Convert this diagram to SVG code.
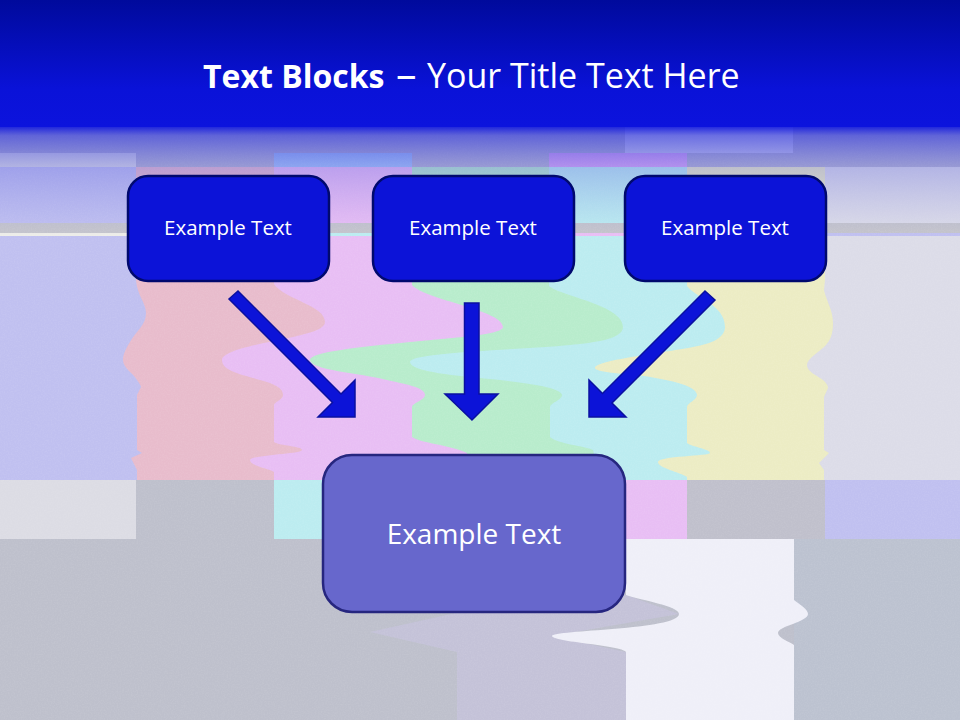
<svg xmlns="http://www.w3.org/2000/svg" width="960" height="720" viewBox="0 0 960 720">
<style>
.ui{font-family:"Open Sans","Noto Sans","Liberation Sans",sans-serif;fill:#fff;text-anchor:middle}
.small{font-size:20.500px}
.top{fill:#0c13d8;stroke:#00096e;stroke-width:2.5}
.arrow{fill:#0c13d8;stroke:#0a10a0;stroke-width:1.5;stroke-linejoin:miter}
</style>
<defs>
<linearGradient id="title" x1="0" y1="0" x2="0" y2="1">
<stop offset="0" stop-color="#000a9c"/><stop offset="0.7" stop-color="#0a12d8"/><stop offset="1" stop-color="#0c13dd"/>
</linearGradient>
<linearGradient id="fade" x1="0" y1="0" x2="0" y2="1">
<stop offset="0" stop-color="#0c13dd" stop-opacity="0.88"/>
<stop offset="0.08" stop-color="#2a30dc" stop-opacity="0.62"/>
<stop offset="0.38" stop-color="#4a50dc" stop-opacity="0.28"/>
<stop offset="1" stop-color="#6a70e0" stop-opacity="0"/>
</linearGradient>
<filter id="grain" x="0" y="0" width="100%" height="100%">
<feTurbulence type="fractalNoise" baseFrequency="0.7" numOctaves="2" seed="4"/>
<feColorMatrix type="matrix" values="0 0 0 0 1  0 0 0 0 1  0 0 0 0 1  1.2 0 0 0 -0.45"/>
</filter>
</defs>
<g id="background">
<rect width="960" height="720" fill="#bec0cc"/>
<rect y="127" width="960" height="40" fill="#b8b8d0"/>
<rect x="625" y="127" width="168" height="26" fill="#d4d4ec"/>
<rect y="153" width="136" height="14" fill="#dcdce4"/>
<rect x="274" y="153" width="138" height="14" fill="#a8c8f8"/>
<rect x="549" y="153" width="138" height="14" fill="#dcaaf4"/>
<rect y="167" width="960" height="313" fill="#c0c0f0"/>
<rect x="136" y="167" width="138" height="113" fill="#e8bccc"/>
<rect x="274" y="167" width="138" height="113" fill="#e8bef4"/>
<rect x="412" y="167" width="137" height="113" fill="#b8eccc"/>
<rect x="549" y="167" width="138" height="113" fill="#bcecf0"/>
<rect x="687" y="167" width="138" height="113" fill="#ececc4"/>
<rect x="825" y="167" width="135" height="113" fill="#dcdce8"/>
<path fill="#e8bccc" d="M136 280C137 295 146 303 146 313C146 325 137 330 130 342C125 350 123 355 123 360C123 368 133 373 137 380C140 384 141 386 141 387L137 395L137 450L142 453L131 458L137 470L137 480L960 480L960 280Z"/>
<path fill="#e8bef4" d="M274 280L274 284C285 300 325 305 325 322C325 330 305 334 293 337C265 343 222 350 222 360C222 372 245 375 260 380C275 384 283 388 283 395C283 400 274 402 274 405L274 442C280 446 302 446 302 450C302 454 250 455 250 460C250 466 268 468 274 472L274 480L960 480L960 280Z"/>
<path fill="#b8eccc" d="M412 280L412 285C425 300 503 310 503 327C503 335 450 338 410 342C360 347 310 352 310 360C310 370 360 373 387 380C410 385 425 388 425 395C425 400 412 403 412 407L412 437C420 443 450 445 467 453L470 480L960 480L960 280Z"/>
<path fill="#bcecf0" d="M549 280L549 286C560 296 623 305 623 327C623 340 590 343 570 345C520 350 410 352 410 362C410 372 460 376 490 379C530 383 562 388 562 395C562 400 550 403 550 407L550 437C558 444 585 446 593 450L600 480L960 480L960 280Z"/>
<path fill="#ececc4" d="M687 280L687 286C695 297 725 305 725 327C725 340 705 345 693 347C670 352 595 360 595 368C595 372 625 374 637 375C665 379 697 385 697 395C697 400 687 403 687 407L687 443C692 447 710 449 710 453C710 456 658 456 658 462C658 468 680 472 687 477L687 480L960 480L960 280Z"/>
<path fill="#dcdce8" d="M825 280L824 290C826 300 833 310 833 323C833 335 830 340 826 345C820 352 807 358 807 365C807 372 818 376 823 380C826 383 828 385 828 388L824 397L824 450L829 453L819 463L824 470L824 480L960 480L960 280Z"/>
<rect y="223" width="960" height="10" fill="#c4c4cc"/>
<rect y="233" width="136" height="3" fill="#ecece8"/>
<rect x="274" y="233" width="138" height="3" fill="#bcecf0"/>
<rect x="549" y="233" width="138" height="3" fill="#e8bef4"/>
<rect x="825" y="233" width="135" height="3" fill="#c0c0f0"/>
<rect y="480" width="136" height="59" fill="#dcdce4"/>
<rect x="136" y="480" width="138" height="59" fill="#bec0cc"/>
<rect x="274" y="480" width="138" height="59" fill="#bcecf0"/>
<rect x="412" y="480" width="137" height="59" fill="#bec0cc"/>
<rect x="549" y="480" width="138" height="59" fill="#e8bef4"/>
<rect x="687" y="480" width="138" height="59" fill="#c0c0cc"/>
<rect x="825" y="480" width="135" height="59" fill="#c0c0f0"/>
<rect x="794" y="539" width="166" height="181" fill="#bcc2d0"/>
<path fill="#c4c2d8" d="M626 595L679 614L552 636L626 652L626 720L457 720L457 652L370 632L460 612Z"/>
<path fill="#efeff8" d="M626 539L794 539L794 600C800 605 808 609 808 614C808 622 778 626 778 633C778 638 790 642 794 645L794 720L626 720L626 652C622 645 552 642 552 636C552 630 679 630 679 614C679 606 640 600 626 595Z"/>
<rect width="960" height="720" filter="url(#grain)" opacity="0.13"/>
<rect y="127" width="960" height="108" fill="url(#fade)"/>
<rect width="960" height="127" fill="url(#title)"/>
</g>
<g id="title-text">
<text y="88" class="ui" style="text-anchor:start"><tspan x="203" font-size="32" font-weight="700">Text Blocks</tspan><tspan x="396" font-size="41">–</tspan><tspan x="427" font-size="34">Your Title Text Here</tspan></text>
</g>
<g id="connectors">
<polygon class="arrow" points="238,291 341,394 355,380 355,417 318,417 332.500,402.500 229,299"/>
<polygon class="arrow" points="464.500,303 479,303 479,394 498,394 472,420 445,394 464.500,394"/>
<polygon class="arrow" points="705,291 715,300 612,403 626,417 589,417 589,380 602.500,393.500"/>
</g>
<g id="node-1"><rect class="top" x="128" y="176" width="201" height="105" rx="20"/><text class="ui small" x="228" y="235">Example Text</text></g>
<g id="node-2"><rect class="top" x="373" y="176" width="201" height="105" rx="20"/><text class="ui small" x="473" y="235">Example Text</text></g>
<g id="node-3"><rect class="top" x="625" y="176" width="201" height="105" rx="20"/><text class="ui small" x="725" y="235">Example Text</text></g>
<g id="node-4"><rect x="323" y="455" width="302" height="157" rx="29" fill="#6767cc" stroke="#26267f" stroke-width="2.500"/><text class="ui" x="474" y="544" font-size="28">Example Text</text></g>
</svg>
